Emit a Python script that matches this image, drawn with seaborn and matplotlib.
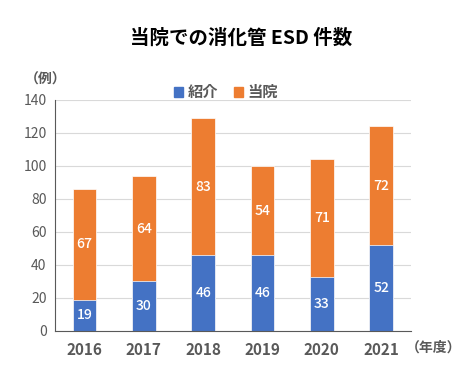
import numpy as np
import pandas as pd
import matplotlib
matplotlib.use("Agg")
import matplotlib.pyplot as plt
import seaborn as sns

years = ["2016", "2017", "2018", "2019", "2020", "2021"]
shokai = [19, 30, 46, 46, 33, 52]   # 紹介
toin = [67, 64, 83, 54, 71, 72]     # 当院

BLUE = "#4472C4"
ORANGE = "#ED7D31"
GRAY = "#595959"

sns.set_theme(style="white")
plt.rcParams["font.family"] = ["Noto Sans CJK JP", "DejaVu Sans"]

df = pd.DataFrame({"year": years, "shokai": shokai, "toin": toin})
df["total"] = df["shokai"] + df["toin"]

fig = plt.figure(figsize=(4.69, 3.69), dpi=100)
ax = fig.add_axes([0.117, 0.103, 0.759, 0.626])

# stacked: totals in orange, blue drawn over the bottom part
sns.barplot(data=df, x="year", y="total", color=ORANGE, width=0.4,
            saturation=1, edgecolor="white", linewidth=0.5, ax=ax)
sns.barplot(data=df, x="year", y="shokai", color=BLUE, width=0.4,
            saturation=1, edgecolor="white", linewidth=0.5, ax=ax)

for i, row in df.iterrows():
    ax.text(i, row["shokai"] / 2, str(row["shokai"]), ha="center", va="center",
            color="white", fontsize=10, fontweight="medium")
    ax.text(i, row["shokai"] + row["toin"] / 2, str(row["toin"]), ha="center",
            va="center", color="white", fontsize=10, fontweight="medium")

ax.set_ylim(0, 140)
ax.set_yticks(range(0, 141, 20))
ax.set_xlim(-0.5, 5.5)
ax.yaxis.grid(True, color="#D9D9D9", linewidth=0.8)
ax.set_axisbelow(True)
ax.set_xlabel("")
ax.set_ylabel("")
for s in ["top", "right"]:
    ax.spines[s].set_visible(False)
ax.spines["left"].set_color(GRAY)
ax.spines["bottom"].set_color(GRAY)
ax.spines["left"].set_linewidth(0.8)
ax.spines["bottom"].set_linewidth(0.8)
ax.tick_params(axis="y", labelsize=10, colors=GRAY, length=0, pad=6)
ax.tick_params(axis="x", labelsize=11, colors=GRAY, length=0, pad=8)
for lbl in ax.get_xticklabels():
    lbl.set_fontweight("bold")

fig.text(0.514, 0.897, "当院での消化管 ESD 件数", ha="center", va="center",
         fontsize=14, fontweight="bold", color="black")
fig.text(0.098, 0.783, "（例）", ha="center", va="center", fontsize=10,
         fontweight="bold", color=GRAY)
fig.text(0.925, 0.058, "（年度）", ha="center", va="center", fontsize=10,
         fontweight="bold", color=GRAY)

handles = [plt.Rectangle((0, 0), 1, 1, color=BLUE),
           plt.Rectangle((0, 0), 1, 1, color=ORANGE)]
fig.legend(handles, ["紹介", "当院"], loc="center", bbox_to_anchor=(0.482, 0.75),
           ncol=2, frameon=False, handlelength=0.6, handleheight=0.6,
           handletextpad=0.3, columnspacing=1.0, labelcolor=GRAY,
           prop={"weight": "bold", "size": 11})

fig.savefig("out.png", dpi=100)
